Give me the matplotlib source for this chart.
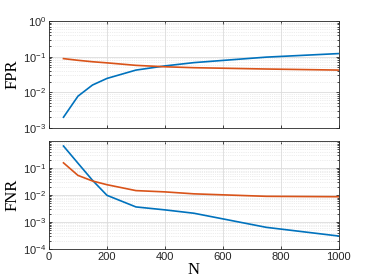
import matplotlib
matplotlib.use("Agg")
import matplotlib.pyplot as plt
from matplotlib.ticker import LogLocator, NullFormatter

# data
N = [50, 100, 150, 200, 300, 400, 500, 750, 1000]
fpr_blue = [0.002, 0.0078, 0.016, 0.0245, 0.042, 0.055, 0.068, 0.097, 0.122]
fpr_orange = [0.088, 0.079, 0.072, 0.067, 0.057, 0.052, 0.049, 0.045, 0.042]
fnr_blue = [0.65, 0.15, 0.035, 0.0097, 0.0036, 0.0028, 0.0021, 0.00063, 0.0003]
fnr_orange = [0.155, 0.053, 0.033, 0.024, 0.0145, 0.013, 0.011, 0.0089, 0.0086]

BLUE = "#0072BD"
ORANGE = "#D95319"
AX_COLOR = "#262626"

plt.rcParams.update({
    "font.family": ["Liberation Sans", "DejaVu Sans"],
    "mathtext.fontset": "custom",
    "mathtext.rm": "Liberation Sans",
    "mathtext.it": "Liberation Sans",
    "font.size": 8,
    "xtick.direction": "in",
    "ytick.direction": "in",
    "xtick.color": AX_COLOR,
    "ytick.color": AX_COLOR,
    "axes.edgecolor": AX_COLOR,
})

fig = plt.figure(figsize=(3.74, 2.8), dpi=100)
ax1 = fig.add_axes([0.131, 0.543, 0.775, 0.382])
ax2 = fig.add_axes([0.131, 0.111, 0.775, 0.385])


def style(ax, ylim, yticks):
    ax.set_yscale("log")
    ax.set_xlim(0, 1000)
    ax.set_ylim(*ylim)
    ax.set_xticks([0, 200, 400, 600, 800, 1000])
    ax.set_yticks(yticks)
    ax.yaxis.set_minor_locator(LogLocator(base=10, subs=range(2, 10), numticks=20))
    ax.yaxis.set_minor_formatter(NullFormatter())
    ax.grid(True, which="major", color="#dcdcdc", lw=0.6)
    ax.grid(True, which="minor", axis="y", color="#dcdcdc", lw=0.5, ls=":")
    ax.tick_params(which="both", top=True, right=True, length=2.5, width=0.6)
    ax.tick_params(which="minor", length=1.5)
    ax.tick_params(labelsize=8, pad=2)
    for s in ax.spines.values():
        s.set_linewidth(0.6)
    ax.set_axisbelow(True)


ax1.plot(N, fpr_blue, color=BLUE, lw=1.2)
ax1.plot(N, fpr_orange, color=ORANGE, lw=1.2)
style(ax1, (1e-3, 1), [1e-3, 1e-2, 1e-1, 1])
ax1.set_xticklabels([])
ax1.set_ylabel("FPR", family="Liberation Serif", fontsize=12, labelpad=2)

ax2.plot(N, fnr_blue, color=BLUE, lw=1.2)
ax2.plot(N, fnr_orange, color=ORANGE, lw=1.2)
style(ax2, (1e-4, 0.99), [1e-4, 1e-3, 1e-2, 1e-1])
ax2.set_ylabel("FNR", family="Liberation Serif", fontsize=12, labelpad=2)
ax2.set_xlabel("N", family="Liberation Serif", fontsize=12, labelpad=0)

fig.savefig("out.png", dpi=100)
